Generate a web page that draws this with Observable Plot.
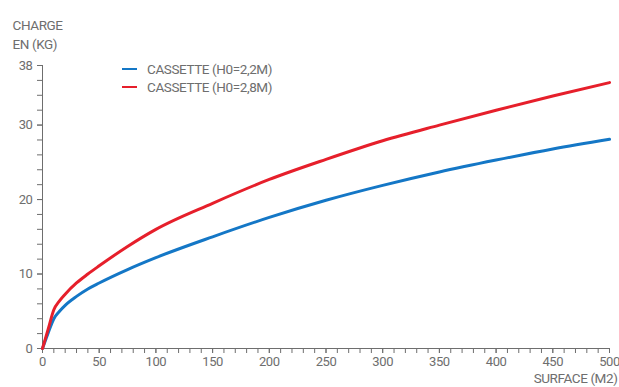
<!DOCTYPE html>
<html>
<head>
<meta charset="utf-8">
<script src="https://cdn.jsdelivr.net/npm/d3@7"></script>
<script src="https://cdn.jsdelivr.net/npm/@observablehq/plot@0.6"></script>
<style>
  body { margin: 0; background: #fff; }
  #wrap { position: relative; width: 619px; height: 387px; font-family: "Roboto", sans-serif; }
  #legend { position: absolute; left: 122px; top: 60px; font-size: 13.5px; color: #6e6e6e; line-height: 18px; letter-spacing: -0.4px; }
  #legend div { display: flex; align-items: center; }
  #legend span.sw { display: inline-block; width: 15px; height: 2.5px; margin-right: 10px; }
  svg text { letter-spacing: -0.4px; }
</style>
</head>
<body>
<div id="wrap"><div id="legend"></div></div>
<script>
const surface = [0, 5, 10, 15, 20, 30, 40, 50, 75, 100, 150, 200, 250, 300, 350, 400, 450, 500];
const chargeH22 = [0, 2.1, 4.0, 5.0, 5.8, 7.0, 8.0, 8.8, 10.6, 12.2, 15.0, 17.6, 19.9, 21.9, 23.7, 25.3, 26.8, 28.1];
const chargeH28 = [0, 2.6, 5.2, 6.4, 7.3, 8.8, 10.0, 11.1, 13.7, 16.0, 19.5, 22.7, 25.4, 27.9, 30.0, 32.0, 33.9, 35.7];
const seriesNames = ["CASSETTE (H0=2,2M)", "CASSETTE (H0=2,8M)"];
const seriesColors = ["#1477c6", "#e61f2b"];
const xTickLabels = [0, 50, 100, 150, 200, 250, 300, 350, 400, 450, 500];
const yTickLabels = [0, 10, 20, 30, 38];
const xMinorTicks = d3.range(0, 501, 10);
const yMinorTicks = d3.range(0, 39, 2);
const yTitle = ["CHARGE", "EN (KG)"];
const xTitle = "SURFACE (M2)";

const data = [];
surface.forEach((s, i) => {
  data.push({surface: s, charge: chargeH22[i], serie: seriesNames[0]});
  data.push({surface: s, charge: chargeH28[i], serie: seriesNames[1]});
});

const gray = "#6e6e6e";
const chart = Plot.plot({
  width: 619,
  height: 387,
  marginLeft: 42,
  marginRight: 10,
  marginTop: 65,
  marginBottom: 39,
  style: {fontFamily: '"Roboto", sans-serif', fontSize: "13px", color: gray, background: "#fff", overflow: "visible"},
  x: {domain: [0, 500]},
  y: {domain: [0, 38]},
  color: {domain: seriesNames, range: seriesColors},
  marks: [
    Plot.axisX({ticks: xMinorTicks, tickSize: 5, text: null, stroke: gray, strokeOpacity: 1, label: null}),
    Plot.axisX({ticks: xTickLabels, tickSize: 5, tickPadding: 3, fill: gray, stroke: gray, strokeOpacity: 1, label: null, fontSize: 13}),
    Plot.axisY({ticks: yMinorTicks, tickSize: 5, text: null, stroke: gray, strokeOpacity: 1, label: null}),
    Plot.axisY({ticks: yTickLabels, tickSize: 5, tickPadding: 5, fill: gray, stroke: gray, strokeOpacity: 1, label: null, fontSize: 13}),
    Plot.ruleX([0], {stroke: gray, strokeWidth: 1}),
    Plot.ruleY([0], {stroke: gray, strokeWidth: 1}),
    Plot.line(data, {x: "surface", y: "charge", stroke: "serie", strokeWidth: 3, curve: "monotone-x"}),
    Plot.text([yTitle[0]], {frameAnchor: "top-left", dx: -30, dy: -45, textAnchor: "start", fill: gray, fontSize: 13.5}),
    Plot.text([yTitle[1]], {frameAnchor: "top-left", dx: -30, dy: -26, textAnchor: "start", fill: gray, fontSize: 13.5}),
    Plot.text([xTitle], {frameAnchor: "bottom-right", dx: 8, dy: 34, textAnchor: "end", fill: gray, fontSize: 13.5})
  ]
});
document.getElementById("wrap").prepend(chart);

const legend = document.getElementById("legend");
seriesNames.forEach((n, i) => {
  const row = document.createElement("div");
  row.innerHTML = `<span class="sw" style="background:${seriesColors[i]}"></span>${n}`;
  legend.appendChild(row);
});
</script>
</body>
</html>
